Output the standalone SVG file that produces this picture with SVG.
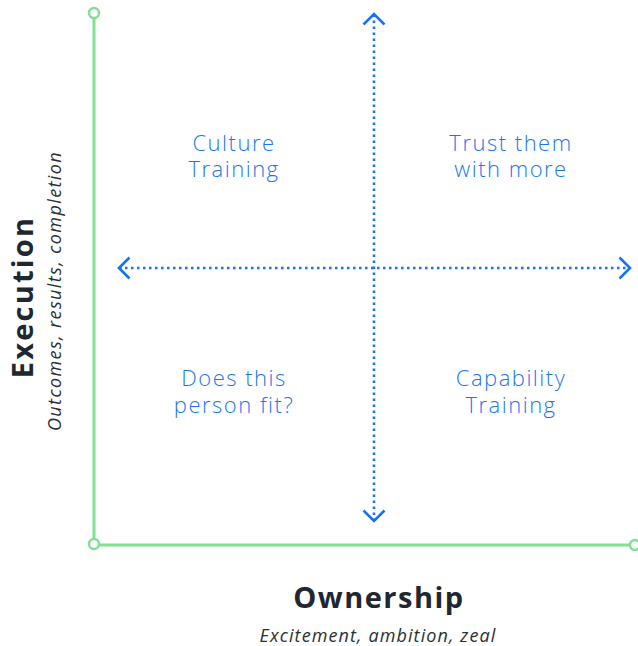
<svg xmlns="http://www.w3.org/2000/svg" width="638" height="646" viewBox="0 0 638 646">
  <style>
    .axis { stroke: #82e095; stroke-width: 3; fill: none; }
    .axis-end { stroke: #82e095; stroke-width: 2.5; fill: #ffffff; }
    .divider { stroke: #1672f3; stroke-width: 2.5; stroke-dasharray: 2.5 3.5; fill: none; }
    .quad { font-family: "Open Sans", "Liberation Sans", sans-serif; font-weight: 300; font-size: 22px; letter-spacing: 1.5px; fill: #1b76ee; text-anchor: middle; }
    .title { font-family: "Open Sans", "Liberation Sans", sans-serif; font-weight: 700; font-size: 29px; letter-spacing: 1.5px; fill: #1f2730; text-anchor: middle; }
    .subtitle { font-family: "Open Sans", "Liberation Sans", sans-serif; font-style: italic; font-size: 18px; letter-spacing: 1.1px; fill: #2a2f35; text-anchor: middle; }
  </style>
  <defs>
    <marker id="chevron" markerUnits="userSpaceOnUse" viewBox="-12 -12 14 24" refX="0" refY="0" markerWidth="14" markerHeight="24" orient="auto-start-reverse">
      <path d="M-10.5,-10.5 L0,0 L-10.5,10.5" fill="none" stroke="#1672f3" stroke-width="2.6"/>
    </marker>
  </defs>

  <rect width="638" height="646" fill="#ffffff"/>

  <!-- axes -->
  <g id="axes">
    <line class="axis" x1="94" y1="18" x2="94" y2="544"/>
    <line class="axis" x1="94" y1="545" x2="630" y2="545"/>
    <circle class="axis-end" cx="94" cy="13" r="5"/>
    <circle class="axis-end" cx="94" cy="544" r="5"/>
    <circle class="axis-end" cx="635" cy="545" r="5"/>
  </g>

  <!-- quadrant dividers -->
  <g id="connectors">
    <line class="divider" x1="374" y1="521" x2="374" y2="14" marker-start="url(#chevron)" marker-end="url(#chevron)"/>
    <line class="divider" x1="119" y1="268" x2="630" y2="268" marker-start="url(#chevron)" marker-end="url(#chevron)"/>
  </g>

  <g id="q-culture">
    <text class="quad" x="234" y="151">Culture</text>
    <text class="quad" x="234" y="177">Training</text>
  </g>
  <g id="q-trust">
    <text class="quad" x="511" y="151">Trust them</text>
    <text class="quad" x="511" y="177">with more</text>
  </g>
  <g id="q-fit">
    <text class="quad" x="234" y="386">Does this</text>
    <text class="quad" x="234" y="413">person fit?</text>
  </g>
  <g id="q-capability">
    <text class="quad" x="511" y="386">Capability</text>
    <text class="quad" x="511" y="413">Training</text>
  </g>

  <g id="y-label">
    <text class="title" style="letter-spacing:2.2px" transform="translate(33 297) rotate(-90)">Execution</text>
    <text class="subtitle" style="letter-spacing:1.4px" transform="translate(61 291) rotate(-90)">Outcomes, results, completion</text>
  </g>
  <g id="x-label">
    <text class="title" x="379" y="608">Ownership</text>
    <text class="subtitle" x="378" y="642">Excitement, ambition, zeal</text>
  </g>
</svg>
